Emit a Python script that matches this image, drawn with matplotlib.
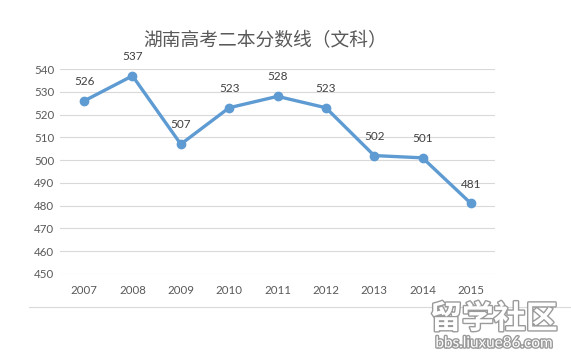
import matplotlib
matplotlib.use("Agg")
import matplotlib.pyplot as plt
import matplotlib.patheffects as pe
from matplotlib.lines import Line2D

years = ["2007", "2008", "2009", "2010", "2011", "2012", "2013", "2014", "2015"]
scores = [526, 537, 507, 523, 528, 523, 502, 501, 481]
y_ticks = [450, 460, 470, 480, 490, 500, 510, 520, 530, 540]

plt.rcParams['font.family'] = ['Lato', 'Noto Sans CJK SC', 'DejaVu Sans']

fig = plt.figure(figsize=(5.71, 3.54), dpi=100)
ax = fig.add_axes([0.105, 0.226, 0.762, 0.579])

x = list(range(len(years)))
ax.plot(x, scores, color="#5E9BD2", linewidth=2.4, marker='o', markersize=6,
        markerfacecolor="#5E9BD2", markeredgecolor="#5E9BD2", zorder=3)

for xi, v in zip(x, scores):
    ax.annotate(str(v), (xi, v), xytext=(0, 10), textcoords="offset points",
                ha="center", va="bottom", fontsize=8.5, color="#404040")

ax.set_xlim(-0.5, len(years) - 0.5)
ax.set_ylim(450, 540)
ax.set_yticks(y_ticks)
ax.set_xticks(x)
ax.set_xticklabels(years)
ax.tick_params(axis='both', length=0, labelsize=8.3, labelcolor="#595959")
ax.tick_params(axis='x', pad=8)
ax.tick_params(axis='y', pad=4)
ax.grid(axis='y', color="#D9D9D9", linewidth=0.8)
ax.set_axisbelow(True)
for s in ax.spines.values():
    s.set_visible(False)

fig.text(0.465, 0.885, "湖南高考二本分数线（文科）", ha="center", va="center",
         fontsize=13.5, color="#595959", family=['Noto Sans CJK SC', 'DejaVu Sans'])

# bottom border line of the chart area
fig.add_artist(Line2D([0.05, 1.0], [0.133, 0.133], color="#D9D9D9", linewidth=0.8))

# watermark
wm = [pe.withStroke(linewidth=2, foreground="#9A9A9A")]
fig.text(0.865, 0.098, "留学社区", ha="center", va="center", fontsize=23, color="white",
         family=['Noto Sans CJK SC', 'DejaVu Sans'], weight="bold", path_effects=wm)
fig.text(0.865, 0.03, "bbs.liuxue86.com", ha="center", va="center", fontsize=11,
         color="white", path_effects=wm)

fig.savefig("out.png", dpi=100)
